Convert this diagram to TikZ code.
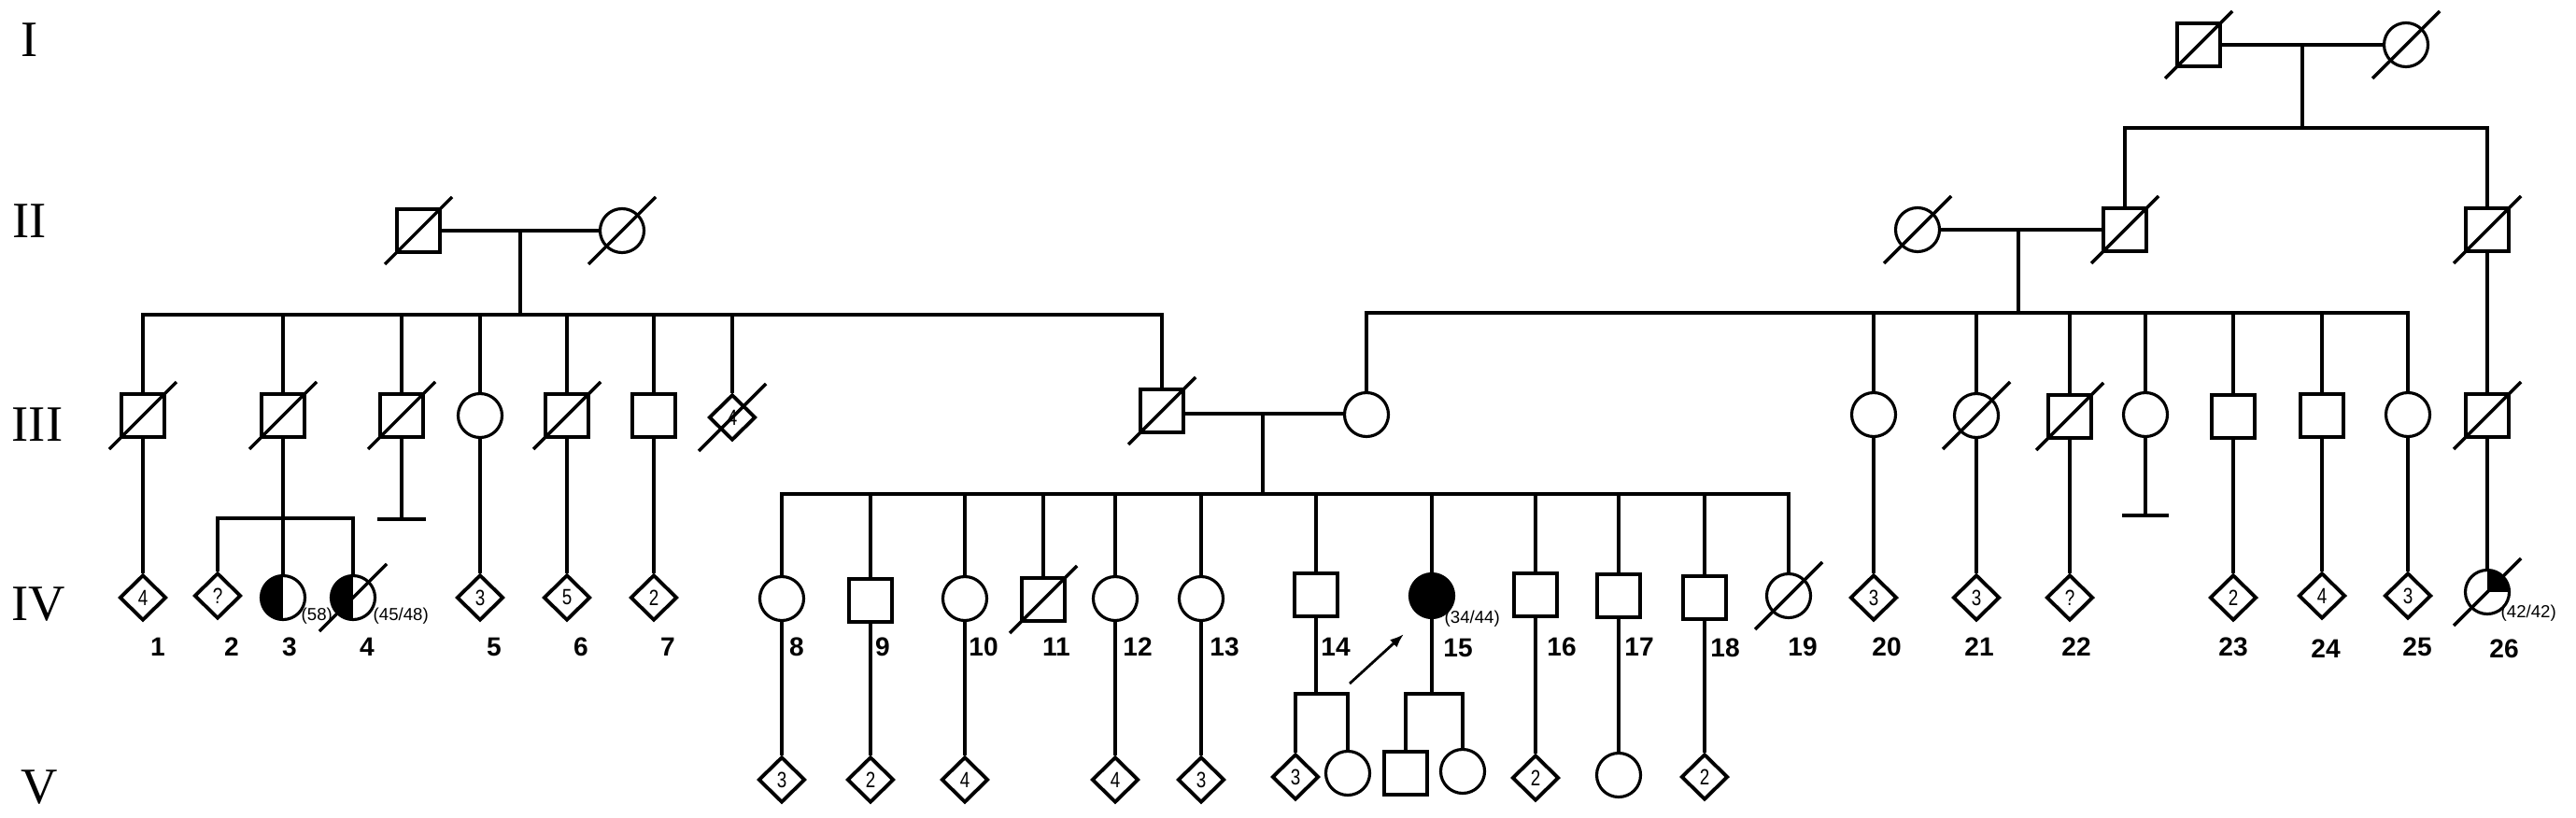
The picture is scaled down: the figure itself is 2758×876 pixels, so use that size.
\documentclass[tikz,border=0pt]{standalone}
\usepackage{fontspec}
\setmainfont{Liberation Serif}
\newfontfamily\numfont{Liberation Sans}
\newfontfamily\condfont{Liberation Sans}[FakeStretch=0.8]
\usetikzlibrary{shapes.geometric,calc,arrows.meta}
\tikzset{
 ln/.style={line width=1pt},
 barln/.style={line width=1.3pt},
 male/.style={draw, rectangle, minimum size=0.46cm, inner sep=0pt, line width=1.1pt},
 female/.style={draw, circle, minimum size=0.47cm, inner sep=0pt, line width=0.9pt},
 unk/.style={draw, diamond, minimum width=0.5cm, minimum height=0.49cm, inner sep=0pt, line width=1.1pt, font=\condfont\fontsize{6.7}{7}\selectfont},
 slashln/.style={line width=1pt},
 lbl/.style={font=\numfont\bfseries\fontsize{8}{9}\selectfont, inner sep=0pt},
 gen/.style={font=\fontsize{15.5}{16}\selectfont, inner sep=0pt},
 note/.style={font=\numfont\fontsize{5.3}{6}\selectfont, inner sep=0pt, anchor=west},
 halfleft/.style={path picture={\fill[black] (path picture bounding box.south west) rectangle (path picture bounding box.north);}},
 quadne/.style={path picture={\fill[black] (path picture bounding box.center) rectangle (path picture bounding box.north east);}},
}
\newcommand{\deadmark}[1]{\draw[slashln] ($(#1)+(-36,36)$) -- ($(#1)+(36,-36)$);}
\begin{document}
\begin{tikzpicture}[x=0.01cm,y=-0.01cm]
\useasboundingbox (0,0) rectangle (2758,876);

% generation labels
\node[gen] (gI) at (32,43) {I};
\node[gen] (gII) at (32,237) {II};
\node[gen] (gIII) at (40,455) {III};
\node[gen] (gIV) at (41,647) {IV};
\node[gen] (gV) at (42,843) {V};

% ---------- Generation I ----------
\node[male] (I1) at (2354,48) {};
\node[female] (I2) at (2576,48) {};
\deadmark{I1} \deadmark{I2}
\coordinate (mI) at (2465,48);
\coordinate (sI) at (2465,137);
\draw[ln] (I1) -- (I2);
\draw[ln] (mI) -- (sI);

% ---------- Generation II ----------
\node[male] (IIa) at (448,247) {};
\node[female] (IIb) at (666,247) {};
\node[female] (IIc) at (2053,246) {};
\node[male] (IId) at (2275,246) {};
\node[male] (IIe) at (2663,246) {};
\deadmark{IIa} \deadmark{IIb} \deadmark{IIc} \deadmark{IId} \deadmark{IIe}
\draw[ln] (IId.north) |- (sI) -| (IIe.north);
\coordinate (mIIa) at (557,247);
\coordinate (sIIa) at (557,337);
\coordinate (mIIb) at (2161,246);
\coordinate (sIIb) at (2161,335);
\draw[ln] (IIa) -- (IIb);
\draw[ln] (mIIa) -- (sIIa);
\draw[ln] (IIc) -- (IId);
\draw[ln] (mIIb) -- (sIIb);

% ---------- Generation III ----------
\node[male] (IIIa) at (153,445) {};
\node[male] (IIIb) at (303,445) {};
\node[male] (IIIc) at (430,445) {};
\node[female] (IIId) at (514,445) {};
\node[male] (IIIe) at (607,445) {};
\node[male] (IIIf) at (700,445) {};
\node[unk] (IIIg) at (784,447) {4};
\node[male] (IIIh) at (1244,440) {};
\node[female] (IIIi) at (1463,444) {};
\node[female] (IIIj) at (2006,444) {};
\node[female] (IIIk) at (2116,445) {};
\node[male] (IIIl) at (2216,446) {};
\node[female] (IIIm) at (2297,444) {};
\node[male] (IIIn) at (2391,446) {};
\node[male] (IIIo) at (2486,445) {};
\node[female] (IIIp) at (2578,444) {};
\node[male] (IIIq) at (2663,445) {};
\deadmark{IIIa} \deadmark{IIIb} \deadmark{IIIc} \deadmark{IIIe} \deadmark{IIIg}
\deadmark{IIIh} \deadmark{IIIk} \deadmark{IIIl} \deadmark{IIIq}

% sibship of II-left couple
\draw[ln] (IIIa.north) |- (sIIa) -| (IIIh.north);
\foreach \n in {IIIb,IIIc,IIId,IIIe,IIIf,IIIg} \draw[ln] (\n.north) -- (\n.north |- sIIa);
% sibship of II-right couple
\draw[ln] (IIIi.north) |- (sIIb) -| (IIIp.north);
\foreach \n in {IIIj,IIIk,IIIl,IIIm,IIIn,IIIo} \draw[ln] (\n.north) -- (\n.north |- sIIb);
\draw[ln] (IIe) -- (IIIq);

% III marriage
\coordinate (mIII) at (1352,443);
\coordinate (sIII) at (1352,529);
\draw[ln] (IIIh.east |- mIII) -- (IIIi.west |- mIII);
\draw[ln] (mIII) -- (sIII);

% childless bars
\coordinate (bc) at (430,556);
\coordinate (bcL) at (404,556);
\coordinate (bcR) at (456,556);
\draw[ln] (IIIc) -- (bc);
\draw[barln] (bcL) -- (bcR);
\coordinate (bm) at (2297,552);
\coordinate (bmL) at (2272,552);
\coordinate (bmR) at (2322,552);
\draw[ln] (IIIm) -- (bm);
\draw[barln] (bmL) -- (bmR);

% ---------- Generation IV ----------
\node[unk] (IV1) at (153,640) {4};
\node[unk] (IV2) at (233,638) {?};
\node[female, halfleft] (IV3) at (303,640) {};
\node[female, halfleft] (IV4) at (378,640) {};
\node[unk] (IV5) at (514,640) {3};
\node[unk] (IV6) at (607,640) {5};
\node[unk] (IV7) at (700,640) {2};
\node[female] (IV8) at (837,641) {};
\node[male] (IV9) at (932,643) {};
\node[female] (IV10) at (1033,641) {};
\node[male] (IV11) at (1117,642) {};
\node[female] (IV12) at (1194,641) {};
\node[female] (IV13) at (1286,641) {};
\node[male] (IV14) at (1409,637) {};
\node[female, fill=black] (IV15) at (1533,638) {};
\node[male] (IV16) at (1644,637) {};
\node[male] (IV17) at (1733,638) {};
\node[male] (IV18) at (1825,640) {};
\node[female] (IV19) at (1915,638) {};
\node[unk] (IV20) at (2006,640) {3};
\node[unk] (IV21) at (2116,640) {3};
\node[unk] (IV22) at (2216,640) {?};
\node[unk] (IV23) at (2391,640) {2};
\node[unk] (IV24) at (2486,638) {4};
\node[unk] (IV25) at (2578,638) {3};
\node[female, quadne] (IV26) at (2663,634) {};
\deadmark{IV4} \deadmark{IV11} \deadmark{IV19} \deadmark{IV26}

% III -> IV lines
\draw[ln] (IIIa) -- (IV1);
\draw[ln] (IIIb) -- (IV3);
\coordinate (cb) at (303,555);
\draw[ln] (IV2.north) |- (cb) -| (IV4.north);
\draw[ln] (IIId) -- (IV5);
\draw[ln] (IIIe) -- (IV6);
\draw[ln] (IIIf) -- (IV7);
\draw[ln] (IIIj) -- (IV20);
\draw[ln] (IIIk) -- (IV21);
\draw[ln] (IIIl) -- (IV22);
\draw[ln] (IIIn) -- (IV23);
\draw[ln] (IIIo) -- (IV24);
\draw[ln] (IIIp) -- (IV25);
\draw[ln] (IIIq) -- (IV26);
% sibship of III couple
\draw[ln] (IV8.north) |- (sIII) -| (IV19.north);
\foreach \n in {IV9,IV10,IV11,IV12,IV13,IV14,IV15,IV16,IV17,IV18} \draw[ln] (\n.north) -- (\n.north |- sIII);

% IV numbers
\node[lbl] (l1) at (169,693) {1};
\node[lbl] (l2) at (248,693) {2};
\node[lbl] (l3) at (310,693) {3};
\node[lbl] (l4) at (393,693) {4};
\node[lbl] (l5) at (529,693) {5};
\node[lbl] (l6) at (622,693) {6};
\node[lbl] (l7) at (715,693) {7};
\node[lbl] (l8) at (853,693) {8};
\node[lbl] (l9) at (945,693) {9};
\node[lbl] (l10) at (1053,693) {10};
\node[lbl] (l11) at (1131,693) {11};
\node[lbl] (l12) at (1218,693) {12};
\node[lbl] (l13) at (1311,693) {13};
\node[lbl] (l14) at (1430,693) {14};
\node[lbl] (l15) at (1561,694) {15};
\node[lbl] (l16) at (1672,693) {16};
\node[lbl] (l17) at (1755,693) {17};
\node[lbl] (l18) at (1847,694) {18};
\node[lbl] (l19) at (1930,693) {19};
\node[lbl] (l20) at (2020,693) {20};
\node[lbl] (l21) at (2119,693) {21};
\node[lbl] (l22) at (2223,693) {22};
\node[lbl] (l23) at (2391,693) {23};
\node[lbl] (l24) at (2490,695) {24};
\node[lbl] (l25) at (2588,693) {25};
\node[lbl] (l26) at (2681,695) {26};

% annotations
\node[note] (n3) at (322,660) {(58)};
\node[note] (n4) at (399,660) {(45/48)};
\node[note] (n15) at (1546,663) {(34/44)};
\node[note] (n26) at (2677,657) {(42/42)};

% proband arrow
\coordinate (arrS) at (1445,732);
\coordinate (arrE) at (1503,679);
\draw[line width=0.8pt, -{Latex[length=0.15cm,width=0.11cm]}] (arrS) -- (arrE);

% ---------- Generation V ----------
\node[unk] (V8) at (837,835) {3};
\node[unk] (V9) at (932,835) {2};
\node[unk] (V10) at (1033,835) {4};
\node[unk] (V12) at (1194,835) {4};
\node[unk] (V13) at (1286,835) {3};
\node[unk] (V14a) at (1387,832) {3};
\node[female] (V14b) at (1443,828) {};
\node[male] (V15a) at (1505,828) {};
\node[female] (V15b) at (1566,826) {};
\node[unk] (V16) at (1644,833) {2};
\node[female] (V17) at (1733,830) {};
\node[unk] (V18) at (1825,832) {2};

\draw[ln] (IV8) -- (V8);
\draw[ln] (IV9) -- (V9);
\draw[ln] (IV10) -- (V10);
\draw[ln] (IV12) -- (V12);
\draw[ln] (IV13) -- (V13);
\draw[ln] (IV16) -- (V16);
\draw[ln] (IV17) -- (V17);
\draw[ln] (IV18) -- (V18);
\coordinate (c14) at (1409,743);
\coordinate (c15) at (1533,743);
\draw[ln] (IV14) -- (c14);
\draw[ln] (V14a.north) |- (c14) -| (V14b.north);
\draw[ln] (IV15) -- (c15);
\draw[ln] (V15a.north) |- (c15) -| (V15b.north);
\end{tikzpicture}
\end{document}
